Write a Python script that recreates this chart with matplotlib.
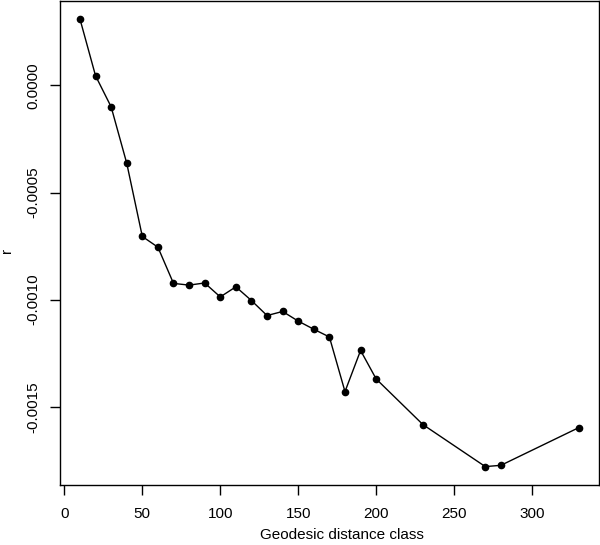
import numpy as np
import matplotlib.pyplot as plt

plt.rcParams['font.family'] = ['Liberation Sans', 'DejaVu Sans']

# distance classes and correlation values
dist_class = [10, 20, 30, 40, 50, 60, 70, 80, 90, 100, 110, 120, 130, 140,
              150, 160, 170, 180, 190, 200, 230, 270, 280, 330]
r_vals = [0.000310, 0.000045, -0.000100, -0.000363, -0.000705, -0.000755,
          -0.000924, -0.000932, -0.000922, -0.000987, -0.000940, -0.001004,
          -0.001074, -0.001055, -0.001100, -0.001138, -0.001174, -0.001429,
          -0.001237, -0.001370, -0.001583, -0.001779, -0.001773, -0.001597]
x_ticks = [0, 50, 100, 150, 200, 250, 300]
y_ticks = [0.0, -0.0005, -0.0010, -0.0015]
y_labels = ['0.0000', '-0.0005', '-0.0010', '-0.0015']

fig = plt.figure(figsize=(6, 5.45), dpi=100)
ax = fig.add_axes([0.1, 0.111, 0.898, 0.887])

ax.plot(dist_class, r_vals, color='black', lw=1.0, marker='o', ms=4.5)

# R-style 4% padding
xr = max(dist_class) - min(dist_class)
yr = max(r_vals) - min(r_vals)
ax.set_xlim(min(dist_class) - 0.04 * xr, max(dist_class) + 0.04 * xr)
ax.set_ylim(min(r_vals) - 0.04 * yr, max(r_vals) + 0.04 * yr)

ax.set_xticks(x_ticks)
ax.set_xticklabels([str(t) for t in x_ticks], fontsize=11)
ax.set_yticks(y_ticks)
ax.set_yticklabels(y_labels, fontsize=11, rotation=90, va='center')
ax.tick_params(direction='out', length=7, width=1)
ax.tick_params(axis='y', pad=7)
ax.tick_params(axis='x', pad=9)

ax.set_xlabel('Geodesic distance class', fontsize=11)
ax.xaxis.set_label_coords(0.523, -0.09)
ax.set_ylabel('r', fontsize=11, va='center')
ax.yaxis.set_label_coords(-0.098, 0.485)

for s in ax.spines.values():
    s.set_linewidth(1)

fig.savefig('out.png', dpi=100)
